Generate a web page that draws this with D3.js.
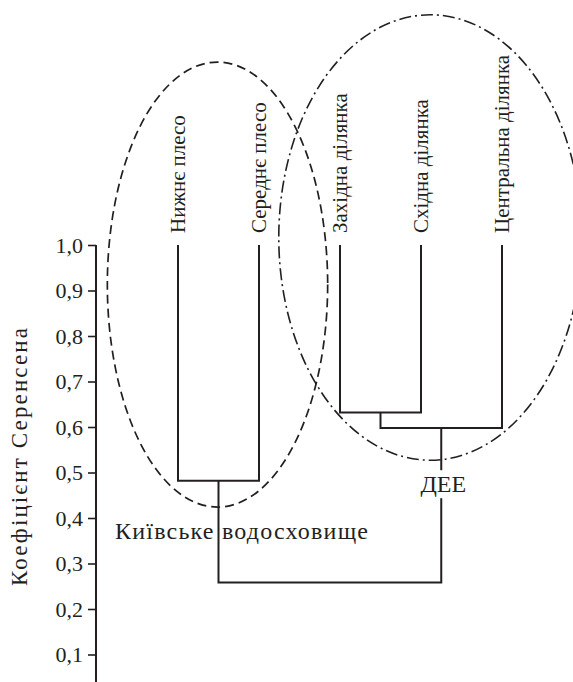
<!DOCTYPE html>
<html><head><meta charset="utf-8">
<script src="https://cdn.jsdelivr.net/npm/d3@7"></script>
<style>html,body{margin:0;padding:0;background:#fff;}svg{display:block;}</style>
</head><body>
<svg id="c" width="573" height="682"></svg>
<script>
const leaves = ["Нижнє плесо","Середнє плесо","Західна ділянка","Східна ділянка","Центральна ділянка"];
const leafHeight = 1.0;
// merges: [id, left child, right child, height]
const merges = [
  ["m0", "Нижнє плесо", "Середнє плесо", 0.482],
  ["m1", "Західна ділянка", "Східна ділянка", 0.632],
  ["m2", "m1", "Центральна ділянка", 0.598],
  ["m3", "m0", "m2", 0.258]
];
const tickValues = [0.1,0.2,0.3,0.4,0.5,0.6,0.7,0.8,0.9,1.0];
const axisTitle = "Коефіцієнт Серенсена";
const groupLabels = ["Київське водосховище", "ДЕЕ"];

const svg = d3.select("#c");
const ink = "#231f20";
const font = "Liberation Serif";

const y = d3.scaleLinear().domain([0, 1]).range([700, 245]);
const x = d3.scalePoint().domain(leaves).range([178, 502]);
const step = x.step();

const loc = d3.formatLocale({decimal: ",", thousands: " ", grouping: [3], currency: ["", ""]});
const fmt = loc.format(".1f");

// axis
const axisX = 96;
const ax = svg.append("g").attr("transform", `translate(${axisX},0)`)
  .call(d3.axisLeft(y).tickValues(tickValues).tickFormat(fmt).tickSize(8).tickPadding(5));
ax.attr("font-family", font).attr("font-size", 22);
ax.select(".domain").remove();
ax.append("line").attr("x1",0).attr("x2",0).attr("y1",y(1)).attr("y2",682)
  .attr("stroke",ink).attr("stroke-width",2);
ax.selectAll(".tick line").attr("stroke",ink).attr("stroke-width",1.6);
ax.selectAll(".tick text").attr("fill",ink).attr("dy","0.34em");

svg.append("text").attr("transform",`translate(27,457) rotate(-90)`)
  .attr("text-anchor","middle").attr("fill",ink)
  .attr("font-family",font).attr("font-size",23)
  .attr("textLength",258).attr("lengthAdjust","spacing").text(axisTitle);

// dendrogram
const nodes = {};
leaves.forEach(l => nodes[l] = {x: x(l), h: leafHeight});
const g = svg.append("g").attr("fill","none").attr("stroke",ink).attr("stroke-width",2);
merges.forEach(([id,a,b,h]) => {
  const A = nodes[a], B = nodes[b];
  g.append("path").attr("d",
    `M${A.x},${y(A.h)}V${y(h)}H${B.x}V${y(B.h)}`);
  nodes[id] = {x: (A.x+B.x)/2, h: h};
});

// leaf labels
svg.append("g").selectAll("text").data(leaves).join("text")
  .attr("transform", d => `translate(${x(d)+7},233) rotate(-90)`)
  .attr("text-anchor","start")
  .attr("fill",ink).attr("font-family",font).attr("font-size",21)
  .text(d => d);

// ellipses
svg.append("ellipse")
  .attr("cx", (x(leaves[0])+x(leaves[1]))/2 - 1)
  .attr("cy", y(0.913)).attr("rx", step*1.36).attr("ry", y(0.424)-y(0.913))
  .attr("fill","none").attr("stroke",ink).attr("stroke-width",1.7)
  .attr("stroke-dasharray","9,5");
svg.append("ellipse")
  .attr("cx", nodes["m2"].x - 11)
  .attr("cy", y(1.0165)).attr("rx", step*1.87).attr("ry", y(0.527)-y(1.0165))
  .attr("fill","none").attr("stroke",ink).attr("stroke-width",1.6)
  .attr("stroke-dasharray","12,4,2,4");

// group labels
svg.append("text").attr("x",115).attr("y",y(0.353)).attr("fill",ink)
  .attr("font-family",font).attr("font-size",24)
  .attr("textLength",253).attr("lengthAdjust","spacing").text(groupLabels[0]);
const dee = svg.append("g");
dee.append("rect").attr("x", nodes["m2"].x-24).attr("y", y(0.505)).attr("width",50).attr("height",28).attr("fill","#fff");
dee.append("text").attr("x",nodes["m2"].x+2).attr("y",y(0.457)).attr("text-anchor","middle").attr("fill",ink)
  .attr("font-family",font).attr("font-size",24).text(groupLabels[1]);
</script>
</body></html>
